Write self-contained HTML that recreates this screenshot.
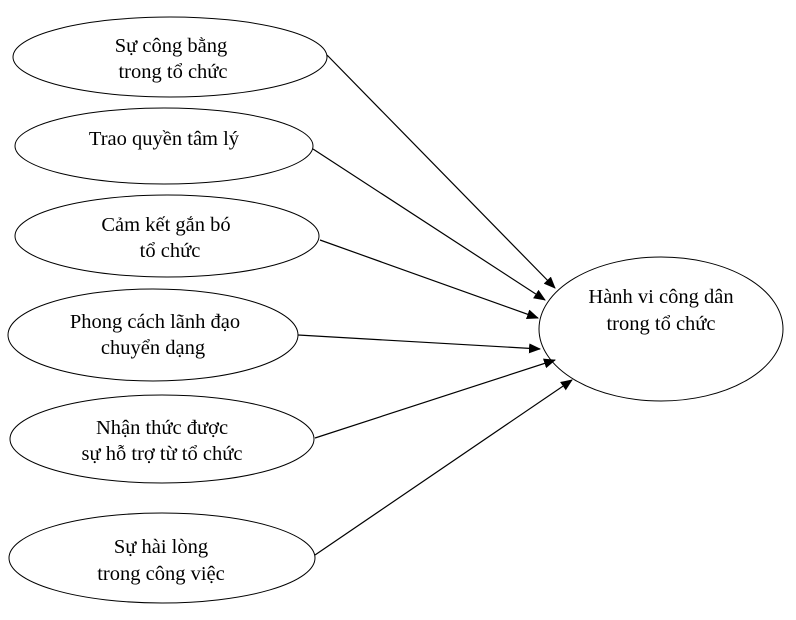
<!DOCTYPE html>
<html><head><meta charset="utf-8"><style>
html,body{margin:0;padding:0;background:#fff;}
svg{display:block;}
text{font-family:"Liberation Serif",serif;font-size:20.5px;fill:#000;text-anchor:middle;}
</style></head><body>
<svg width="796" height="620" viewBox="0 0 796 620" xmlns="http://www.w3.org/2000/svg">
<defs><marker id="a" markerWidth="12" markerHeight="10" refX="11" refY="5" orient="auto" markerUnits="userSpaceOnUse"><path d="M0,0 L12,5 L0,10 z" fill="#000"/></marker></defs>
<g fill="#fff" stroke="#000" stroke-width="1">
<ellipse cx="170" cy="57" rx="157" ry="40"/>
<ellipse cx="164" cy="146" rx="149" ry="38"/>
<ellipse cx="167" cy="236" rx="152" ry="41"/>
<ellipse cx="153" cy="335" rx="145" ry="46"/>
<ellipse cx="162" cy="439" rx="152" ry="44"/>
<ellipse cx="162" cy="558" rx="153" ry="45"/>
<ellipse cx="661" cy="329" rx="122" ry="72"/>
</g>
<g stroke="#000" stroke-width="1.2" marker-end="url(#a)">
<line x1="327" y1="55" x2="555" y2="288"/>
<line x1="313" y1="149" x2="545" y2="300"/>
<line x1="320" y1="240" x2="538" y2="318"/>
<line x1="298" y1="335" x2="540" y2="349"/>
<line x1="315" y1="438" x2="555" y2="360"/>
<line x1="315" y1="555" x2="572" y2="380"/>
</g>
<text x="171" y="52">Sự công bằng</text>
<text x="173" y="78">trong tổ chức</text>
<text x="164" y="145">Trao quyền tâm lý</text>
<text x="166" y="231">Cảm kết gắn bó</text>
<text x="170" y="257">tổ chức</text>
<text x="155" y="328">Phong cách lãnh đạo</text>
<text x="153" y="354">chuyển dạng</text>
<text x="162" y="434">Nhận thức được</text>
<text x="162" y="460">sự hỗ trợ từ tổ chức</text>
<text x="161" y="553">Sự hài lòng</text>
<text x="161" y="580">trong công việc</text>
<text x="661" y="303">Hành vi công dân</text>
<text x="661" y="330">trong tổ chức</text>
</svg>
</body></html>
